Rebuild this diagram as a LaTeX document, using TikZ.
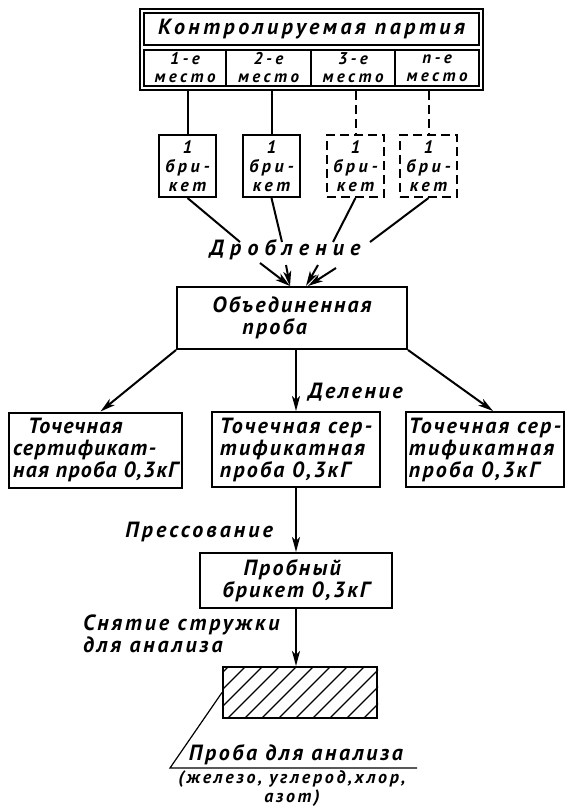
\documentclass[tikz,border=0pt]{standalone}
\usepackage{fontspec}
\setmainfont{PT Sans}
\newfontfamily\gost{PT Sans}
\newcommand\gostfont[3]{\gost\bfseries\itshape\fontsize{#1}{#2}\selectfont\addfontfeatures{LetterSpace=#3}}
\usetikzlibrary{arrows.meta,fit}

\begin{document}
\begin{tikzpicture}[x=1pt,y=-1pt,line width=2pt,>={Stealth[length=15pt,width=8pt,inset=4pt]},
every node/.style={font=\gostfont{22}{22}{10}},
lotbox/.style={draw,rectangle,inner sep=0pt,minimum width=335pt,minimum height=32pt},
cellbox/.style={draw,rectangle,inner sep=0pt,minimum height=36pt,align=center,font=\gostfont{17}{18}{20}},
briq/.style={draw,rectangle,inner sep=0pt,minimum width=57pt,minimum height=62pt,align=center,font=\gostfont{18}{19}{20}},
briqdash/.style={briq,dash pattern=on 9pt off 5pt},
block/.style={draw,rectangle,inner sep=0pt,minimum height=75pt,align=left},
opnote/.style={inner sep=0pt}]
\useasboundingbox (0,0) rectangle (565,809);
% lot and places
\draw (311.5,29) node[lotbox,font=\gostfont{22}{22}{16}] (lot) {Контролируемая партия};
\draw (185,68) node[cellbox,minimum width=82pt] (c1) {1-е\\место};
\draw (268.5,68) node[cellbox,minimum width=85pt] (c2) {2-е\\место};
\draw (353,68) node[cellbox,minimum width=84pt] (c3) {3-е\\место};
\draw (437,68) node[cellbox,minimum width=84pt] (c4) {n-е\\место};
\node[draw,line width=2.5pt,inner sep=3pt,fit=(lot)(c1)(c4)] (frame) {};
% briquettes
\draw (187.5,166) node[briq] (b1) {1\\бри-\\кет};
\draw (271.5,166) node[briq] (b2) {1\\бри-\\кет};
\draw (355.5,166) node[briqdash] (b3) {1\\бри-\\кет};
\draw (428.5,166) node[briqdash] (b4) {1\\бри-\\кет};
\draw (b1.north |- frame.south) -- (b1.north);
\draw (b2.north |- frame.south) -- (b2.north);
\draw[dash pattern=on 9pt off 5pt] (b3.north |- frame.south) -- (b3.north);
\draw[dash pattern=on 9pt off 5pt] (b4.north |- frame.south) -- (b4.north);
% crushing
\draw (285,250) node[opnote,font=\gostfont{22}{22}{28}] (crush) {Дробление};
\coordinate (k1) at (240,242);
\coordinate (k2) at (282,242);
\coordinate (k3) at (333,242);
\coordinate (k4) at (370,242);
\draw (b1.south) -- (k1);
\draw (b2.south) -- (k2);
\draw (b3.south) -- (k3);
\draw (b4.south) -- (k4);
\draw (292,318) node[block,minimum width=230pt,minimum height=62pt] (ub) {Объединенная\\\hspace{30pt}проба};
\coordinate (s1) at (260,263);
\coordinate (s2) at (286,265);
\coordinate (s3) at (318,265);
\coordinate (s4) at (336,268);
\draw[->] (s1) -- ([xshift=-2pt]ub.north);
\draw[->] (s2) -- ([xshift=-2pt]ub.north);
\draw[->] (s3) -- ([xshift=14pt]ub.north);
\draw[->] (s4) -- ([xshift=16pt]ub.north);
% dividing
\draw (95.5,450) node[block,minimum width=173pt,font=\gostfont{22}{22}{6}] (lb) {\hspace{15pt}Точечная\\сертификат-\\ная проба 0,3кГ};
\draw (296,449.5) node[block,minimum width=168pt] (mb) {Точечная сер-\\тификатная\\проба 0,3кГ};
\draw (485,449.5) node[block,minimum width=158pt] (rb) {Точечная сер-\\тификатная\\проба 0,3кГ};
\draw[->] (ub.south west) -- ([xshift=5pt]lb.north);
\draw[->] (ub.south east) -- ([xshift=8pt]rb.north);
\draw[->] (mb.north |- ub.south) -- (mb.north);
\draw (307,392) node[opnote,anchor=west,font=\gostfont{22}{22}{12}] (div) {Деление};
% pressing
\draw (296,580.5) node[block,minimum width=192pt,minimum height=55pt] (pb) {\hspace{21pt}Пробный\\брикет 0,3кГ};
\draw[->] (mb.south) -- (pb.north);
\draw (274,532) node[opnote,anchor=east,font=\gostfont{22}{22}{14}] (press) {Прессование};
% chips for analysis
\draw (82,634) node[opnote,anchor=west,align=left,font=\gostfont{22}{22}{13}] (cut) {Снятие стружки\\для анализа};
\draw (300,692.5) node[draw,minimum width=154pt,minimum height=51pt] (hb) {};
\draw[->] (pb.south) -- (pb.south |- hb.north);
\begin{scope}
\clip (hb.south west) rectangle (hb.north east);
\foreach \x in {160,177,...,380} \draw[line width=1.2pt] (\x,718) -- ++(52,-52);
\end{scope}
\coordinate (lk) at (170,768);
\coordinate (le) at (417,768);
\draw[line width=1.2pt] (hb.west) -- (lk) -- (le);
\draw (296,755) node[opnote,font=\gostfont{22}{22}{12}] (probe) {Проба для анализа};
\draw (292,789) node[opnote,align=center,font=\gostfont{18}{19}{15}] (elem) {(железо, углерод,хлор,\\азот)};
\end{tikzpicture}
\end{document}
